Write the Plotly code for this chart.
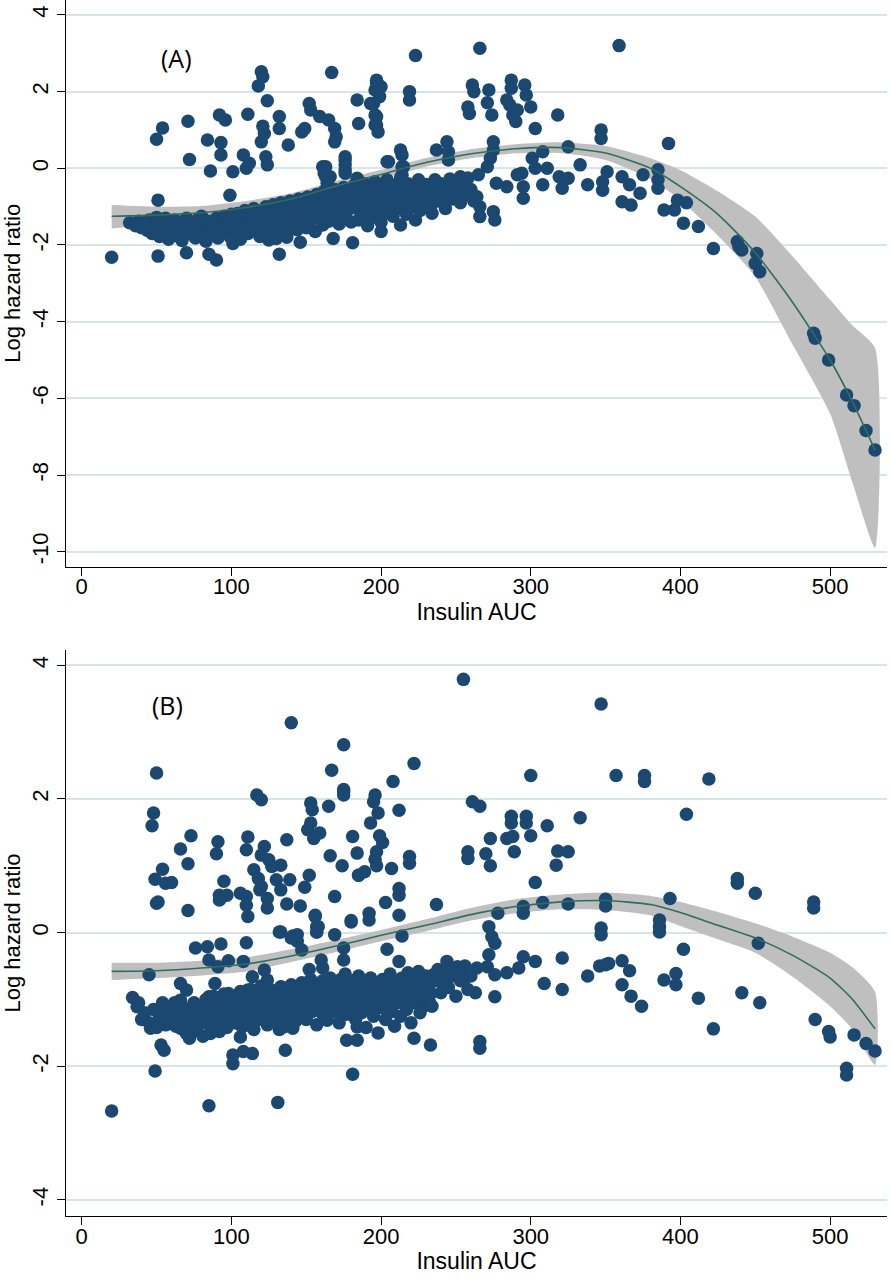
import plotly.graph_objects as go

# ---------------- data ----------------
x_ticks = [0, 100, 200, 300, 400, 500]
a_y_ticks = [-10, -8, -6, -4, -2, 0, 2, 4]
a_y_labels = ["-10", "-8", "-6", "-4", "-2", "0", "2", "4"]
b_y_ticks = [-4, -2, 0, 2, 4]
b_y_labels = ["-4", "-2", "0", "2", "4"]

fit_x = [20, 50, 80, 110, 140, 170, 200, 230, 260, 290, 320, 350, 380, 400, 425, 450, 475, 500, 515, 530]

a_fit = [-1.25, -1.22, -1.16, -1.02, -0.8, -0.46, -0.16, 0.15, 0.38, 0.51, 0.54, 0.4, 0.0, -0.48, -1.2, -2.2, -3.5, -5.0, -6.1, -7.35]
a_hi = [-0.96, -1.0, -0.98, -0.85, -0.65, -0.33, -0.04, 0.27, 0.5, 0.63, 0.68, 0.58, 0.26, -0.05, -0.6, -1.26, -2.3, -3.43, -4.1, -4.69]
a_lo = [-1.57, -1.45, -1.35, -1.2, -0.96, -0.6, -0.28, 0.04, 0.26, 0.39, 0.4, 0.22, -0.28, -0.83, -1.75, -2.83, -4.6, -6.4, -8.2, -9.9]

b_fit = [-0.58, -0.57, -0.53, -0.47, -0.35, -0.2, -0.04, 0.11, 0.27, 0.39, 0.46, 0.48, 0.42, 0.3, 0.11, -0.08, -0.34, -0.68, -1.0, -1.44]
b_hi = [-0.45, -0.45, -0.42, -0.37, -0.25, -0.11, 0.04, 0.2, 0.37, 0.5, 0.57, 0.6, 0.55, 0.46, 0.31, 0.14, -0.06, -0.3, -0.52, -0.88]
b_lo = [-0.71, -0.68, -0.64, -0.58, -0.44, -0.29, -0.13, 0.02, 0.18, 0.29, 0.35, 0.34, 0.26, 0.1, -0.1, -0.3, -0.66, -1.1, -1.45, -1.98]

# Panel A scatter: insulin AUC and log hazard ratio
a_x = [
    20, 50, 54, 71, 72, 51, 51, 70, 85, 90, 84, 93, 92, 96, 93, 86, 101, 99, 111,
    108, 112, 110, 120, 121, 118, 124, 121, 122, 120, 123, 124, 132, 132, 138, 147, 149,
    152, 153, 159, 165, 169, 170, 169, 167, 163, 163, 176, 176, 184, 193, 197, 196, 196,
    196, 185, 168, 181, 132, 146, 125, 130, 137, 101,
    223, 266, 359, 197, 200, 199, 195, 197, 197, 198, 219, 219, 261, 262, 258, 259, 272,
    271, 274, 287, 287, 284, 286, 288, 290, 291, 296, 297, 300, 318, 303, 347, 347, 392,
    213, 205, 215, 237, 244, 245, 245, 275, 275, 273, 271, 308, 325, 301, 303, 311, 333,
    351, 348, 348, 361, 366, 373, 361, 367, 375, 385, 385, 385, 389, 338, 321, 319, 325,
    308, 294, 295, 295, 291, 284, 277, 265, 264, 266, 266, 275, 276, 253, 254, 234, 223,
    213, 200,
    396, 398, 404, 402, 412, 422, 438, 439, 441, 451, 450, 453, 489, 490, 499, 511, 516,
    524, 530,
    161, 162, 166, 164, 176, 176, 176, 184, 204, 214, 214, 214,
    32, 36, 38, 40, 42, 44, 45, 47, 48, 50, 50, 52, 53, 55, 56, 57, 58, 60, 60,
    62, 63, 65, 66, 67, 68, 70, 70, 72, 73, 75, 76, 77, 78, 80, 80, 82, 83, 84, 85, 86,
    88, 89, 90, 91, 92, 93, 95, 95, 96, 98, 99, 100, 100,
    102, 103, 104, 105, 106, 107, 108, 109, 110, 111, 112, 113, 114, 115, 116, 117, 118,
    119, 120, 121, 122, 123, 124, 125, 126, 127, 128, 129, 130, 131, 132, 133, 134, 135,
    136, 137, 138, 139, 140, 140,
    142, 143, 144, 145, 146, 147, 148, 149, 150, 151, 152, 153, 154, 155, 156, 157, 158,
    159, 160, 161, 162, 163, 164, 165, 166, 167, 168, 169, 170, 171, 172, 173, 174, 175,
    176, 177, 178, 179, 180, 180,
    182, 183, 184, 185, 186, 187, 188, 189, 190, 191, 192, 193, 194, 195, 196, 197, 198,
    199, 200, 200, 202, 203, 204, 205, 206, 208, 209, 210, 212, 213, 214, 215, 217, 218,
    220, 221, 222, 224, 225, 226, 228, 229, 230,
    232, 233, 235, 236, 238, 239, 240, 242, 243, 245, 246, 248, 250, 251, 253, 255, 256,
    258, 260, 262,
]
a_y = [
    -2.32, 0.76, 1.05, 1.23, 0.23, -0.83, -2.29, -2.2, -2.24, -2.39, 0.74, 0.67, 1.39, 1.26, 0.35, -0.07, -0.09, -0.7, 1.41,
    0.35, 0.13, 0.0, 2.52, 2.39, 2.15, 1.76, 1.1, 0.91, 0.69, 0.3, 0.09, 1.35, 1.04, 0.61, 0.95, 1.04,
    1.69, 1.52, 1.35, 1.26, 1.04, 0.82, 0.69, 2.5, 0.04, -0.22, 0.22, -0.04, 1.78, 1.69, 2.22, 2.04, 1.39,
    1.13, 1.17, -1.83, -1.94, -2.24, -1.93, -1.87, -1.83, -1.8, -1.96,
    2.94, 3.13, 3.2, 2.3, 2.13, 1.87, 1.69, 1.35, 1.13, 0.95, 2.0, 1.78, 2.17, 2.0, 1.6, 1.43, 2.04,
    1.71, 1.39, 2.3, 2.09, 1.78, 1.65, 1.39, 1.22, 1.52, 2.17, 1.91, 1.6, 1.39, 1.04, 1.0, 0.78, 0.65,
    0.48, 0.17, 0.04, 0.48, 0.69, 0.43, 0.22, 0.69, 0.48, 0.26, 0.04, 0.43, 0.56, 0.26, 0.0, 0.0, 0.09,
    -0.09, -0.35, -0.57, -0.22, -0.43, -0.65, -0.87, -0.96, -0.17, -0.04, -0.3, -0.52, -1.09, -0.43, -0.52, -0.22, -0.26,
    -0.43, -0.13, -0.48, -0.78, -0.17, -0.48, -0.39, -0.17, -0.74, -1.0, -1.26, -1.13, -1.35, -0.22, -0.48, -1.17, -1.35,
    -1.48, -1.65,
    -1.09, -0.83, -0.9, -1.43, -1.52, -2.09, -1.91, -2.04, -2.13, -2.22, -2.48, -2.7, -4.3, -4.43, -5.0, -5.91, -6.19,
    -6.84, -7.35,
    0.04, -0.13, -0.22, -0.39, 0.3, 0.09, -0.13, -0.26, 0.17, 0.04, -0.17, 0.35,
    -1.42, -1.5, -1.38, -1.55, -1.45, -1.62, -1.35, -1.7, -1.5, -1.28, -1.6, -1.78, -1.42, -1.55, -1.3, -1.68, -1.85, -1.48, -1.62,
    -1.35, -1.75, -1.55, -1.45, -1.88, -1.62, -1.3, -1.52, -1.7, -1.42, -1.58, -1.82, -1.35, -1.5, -1.65, -1.25, -1.45, -1.9, -1.55, -1.38, -1.72,
    -1.48, -1.6, -1.3, -1.82, -1.42, -1.55, -1.25, -1.68, -1.45, -1.35, -1.78, -1.52, -1.2,
    -1.4, -1.62, -1.18, -1.5, -1.85, -1.32, -1.58, -1.1, -1.45, -1.7, -1.25, -1.52, -1.38, -1.05, -1.62, -1.3, -1.48,
    -1.78, -1.15, -1.4, -1.55, -1.0, -1.3, -1.65, -1.2, -1.45, -0.95, -1.35, -1.58, -1.12, -1.4, -0.9, -1.25, -1.5,
    -1.05, -1.7, -1.3, -0.85, -1.18, -1.45,
    -1.0, -1.35, -1.6, -0.8, -1.15, -1.42, -0.95, -1.25, -1.55, -0.75, -1.08, -1.35, -0.9, -1.2, -1.65, -0.68, -1.0,
    -1.3, -0.85, -1.48, -0.6, -1.12, -0.95, -1.38, -0.7, -1.02, -1.25, -0.55, -0.88, -1.15, -1.45, -0.72, -1.0, -0.5,
    -1.3, -0.82, -1.08, -0.6, -0.95, -1.4,
    -0.45, -0.78, -1.05, -1.35, -0.62, -0.9, -1.2, -0.4, -0.75, -1.5, -0.98, -0.55, -1.28, -0.82, -0.35, -1.1, -0.68,
    -0.95, -0.5, -1.4, -0.8, -1.15, -0.3, -0.62, -0.95, -1.25, -0.45, -0.78, -1.05, -0.25, -0.6, -0.9, -1.2, -0.4,
    -0.72, -1.0, -0.5, -0.85, -0.3, -1.1, -0.62, -0.9, -0.42,
    -0.75, -1.0, -0.55, -0.3, -0.85, -0.62, -0.4, -0.72, -1.05, -0.5, -0.28, -0.8, -0.6, -0.35, -0.9, -0.45, -0.7,
    -0.25, -0.55, -0.85,
]

# Panel B scatter
b_x = [
    50, 48, 47, 73, 66, 71, 54, 49, 56, 60, 51, 71, 91, 90, 95, 92, 92, 97, 111, 110,
    117, 120, 122, 120, 125, 127, 133, 115, 118, 120, 119, 106, 110, 110, 111, 124, 124,
    130, 133, 139, 137, 137, 146, 149, 152, 140, 175, 175, 167, 165, 153, 154, 153, 151,
    155, 159, 166, 174, 181, 184, 185, 156, 158, 157, 169, 169, 180, 133, 141, 144,
    255, 347, 222, 208, 300, 357, 175, 175, 196, 195, 198, 193, 212, 261, 266, 287, 287,
    297, 297, 300, 311, 333, 199, 201, 197, 196, 197, 207, 219, 219, 185, 189, 273, 284,
    288, 289, 258, 258, 270, 273, 318, 325, 317, 303, 212, 212, 203, 192, 192, 180, 212,
    237, 214, 278, 295, 295, 308, 325, 350, 350, 347, 347, 272, 274, 276, 272, 204, 212,
    295, 303, 321, 292, 264, 271, 276, 284, 309, 321, 338, 350, 346, 263, 276,
    244, 244, 246, 253, 251, 255, 242, 235, 235, 224, 224, 228, 233, 232, 222, 233, 266, 266,
    376, 376, 419, 404, 438, 438, 450, 489, 489, 393, 386, 386, 386, 402, 452, 352, 361,
    366, 361, 367, 374, 389, 397, 397, 412, 422, 441, 453, 490, 499, 500, 516, 524, 530,
    511, 511,
    20, 49, 85, 131, 181, 45, 76, 84, 93, 85, 91, 98, 108, 110, 132, 140, 144, 147, 157,
    157, 156, 152, 160, 161, 175, 175, 34, 37, 40, 46, 55, 58, 53, 55, 52, 59, 66, 70,
    66, 68, 66, 70, 72, 76, 79, 85, 87, 84, 86, 89, 98, 104, 100, 100, 106, 106, 101, 101,
    108, 114, 114, 111, 112, 110, 115, 119, 122, 124, 120, 126, 124, 130, 133, 137, 141,
    146, 133, 135, 141, 136, 150, 155, 159, 153, 150, 161, 164, 168, 170, 173, 175, 177,
    182, 184, 177, 184, 184, 179, 50,
    38, 42, 45, 48, 50, 52, 54, 56, 58,
    60, 62, 63, 64, 65, 67, 68, 69, 71, 72, 73, 74, 75, 77, 78, 79, 80, 81, 82, 83, 84,
    86, 87, 88, 89, 90, 91, 92, 93, 94, 95, 96, 97, 98, 99, 100, 102, 103, 104, 105, 106,
    107, 108, 109, 110, 111, 112, 113, 114, 115, 116, 117, 118, 119, 120, 121, 122, 123,
    124, 125, 126, 127, 128, 129, 130, 131, 132, 133, 134, 135, 136, 137, 138, 139, 140,
    141, 142, 143, 144, 145, 146, 147, 148, 149, 150, 151, 152, 153, 154, 155, 156, 157,
    158, 159, 160, 161, 162, 163, 164, 165, 166, 167, 168, 169, 170, 171, 172, 173, 174,
    175, 176, 177, 178, 179, 180, 181, 182, 183, 184, 185, 186, 187, 188, 189, 190, 191,
    192, 193, 194, 195, 196, 197, 198, 199, 200, 201, 202, 203, 204, 205, 206, 207, 208,
    209, 210, 211, 212, 213, 214, 215, 216, 217, 218, 219, 220, 221, 222, 224, 225, 226,
    227, 229, 230, 232, 234, 236, 238, 240, 242, 245, 248, 250, 253, 256, 258, 260,
]
b_y = [
    2.39, 1.79, 1.6, 1.45, 1.25, 1.03, 0.95, 0.8, 0.74, 0.75, 0.46, 0.33, 1.36, 1.18, 0.77, 0.56, 0.49, 0.56, 1.43, 1.24,
    2.06, 1.99, 1.29, 1.16, 1.09, 0.99, 1.01, 0.94, 0.81, 0.69, 0.64, 0.59, 0.54, 0.41, 0.24, 0.51, 0.37,
    0.79, 0.64, 0.79, 1.39, 0.43, 0.4, 0.68, 0.86, 3.14, 2.81, 2.11, 2.43, 1.89, 1.94, 1.84, 1.64, 1.54,
    1.41, 1.49, 1.15, 1.0, 1.44, 1.19, 0.86, 0.24, 0.09, 0.01, 0.54, -0.03, 0.16, 0.01, -0.05, -0.13,
    3.79, 3.42, 2.53, 2.26, 2.35, 2.35, 2.14, 2.06, 2.06, 1.96, 1.79, 1.64, 1.83, 1.96, 1.89, 1.74, 1.64,
    1.74, 1.64, 1.45, 1.6, 1.72, 1.45, 1.35, 1.21, 1.1, 1.0, 0.96, 1.14, 1.04, 0.86, 0.91, 1.41, 1.41,
    1.44, 1.21, 1.21, 1.11, 1.18, 1.0, 1.22, 1.21, 1.01, 0.75, 0.66, 0.56, 0.45, 0.29, 0.19, 0.18, 0.26,
    0.42, -0.05, 0.29, 0.39, 0.29, 0.45, 0.43, 0.5, 0.4, 0.07, -0.03, 0.09, -0.06, -0.16, -0.33, -0.25, -0.43,
    -0.36, -0.43, -0.38, -0.53, -0.53, -0.51, -0.63, -0.6, -0.76, -0.85, -0.65, -0.48, -0.5, -0.9, -0.96,
    -0.43, -0.56, -0.66, -0.58, -0.51, -0.71, -0.76, -0.71, -0.63, -0.63, -0.73, -1.11, -0.91, -1.01, -1.58, -1.68, -1.63, -1.73,
    2.35, 2.26, 2.3, 1.77, 0.81, 0.74, 0.59, 0.46, 0.37, 0.51, 0.19, 0.09, 0.01, -0.25, -0.16, -0.46, -0.42,
    -0.57, -0.78, -0.95, -1.1, -0.71, -0.61, -0.78, -0.98, -1.44, -0.9, -1.05, -1.3, -1.48, -1.56, -1.53, -1.66, -1.77,
    -2.03, -2.13,
    -2.67, -2.07, -2.59, -2.54, -2.12, -0.63, -0.23, -0.21, -0.17, -0.41, -0.51, -0.42, -0.43, -0.15, 0.01, -0.08, -0.03, -0.26, 0.09,
    0.01, 0.26, -0.55, -0.41, -0.53, -0.23, -0.41, -0.97, -1.11, -1.3, -1.43, -1.1, -1.16, -1.68, -1.76, -1.31, -1.36, -0.76, -0.86,
    -1.01, -1.21, -1.43, -1.51, -1.58, -1.16, -1.23, -0.96, -1.11, -1.36, -1.51, -0.76, -0.91, -0.98, -1.13, -1.33, -1.38, -1.56, -1.83, -1.96,
    -1.78, -1.81, -0.66, -0.86, -1.01, -1.16, -1.26, -1.21, -0.56, -0.71, -0.91, -1.01, -1.16, -1.11, -0.81, -0.91, -1.06,
    -0.96, -1.31, -1.41, -1.43, -1.76, -0.76, -0.86, -1.01, -1.16, -1.28, -1.21, -1.31, -0.86, -1.01, -1.11, -1.21, -1.01,
    -0.86, -1.11, -1.61, -1.41, -1.61, -0.76, 0.44,
    -1.05, -1.2, -1.35, -1.15, -1.42, -1.25, -1.05, -1.38, -1.2,
    -1.25, -1.05, -1.4, -1.18, -1.32, -1.1, -1.45, -1.25, -1.38, -1.15, -1.5, -1.28, -1.05, -1.42, -1.2, -1.35, -1.1, -1.55, -1.28, -1.0, -1.18,
    -1.4, -1.25, -0.95, -1.12, -1.35, -1.2, -1.48, -1.05, -1.3, -0.92, -1.15, -1.42, -1.25, -1.05, -1.2, -0.95, -1.35, -1.12, -1.25, -0.88,
    -1.05, -1.4, -1.18, -0.98, -1.3, -1.1, -0.85, -1.22, -1.45, -1.02, -0.92, -1.3, -1.12, -0.8, -1.05, -1.25, -0.95,
    -1.38, -1.15, -0.85, -1.02, -1.3, -1.12, -0.92, -1.2, -1.45, -1.0, -0.82, -1.15, -1.3, -0.95, -1.08, -1.22, -0.78,
    -0.98, -1.15, -1.32, -0.88, -1.05, -1.2, -0.75, -0.95, -1.12, -1.3, -0.85, -1.02, -0.7, -1.18, -0.92, -1.08, -1.38,
    -0.8, -0.98, -1.15, -0.72, -0.9, -1.25, -1.05, -0.85, -0.68, -1.0, -1.18, -0.78, -0.95, -1.12, -1.35, -0.7, -0.88,
    -1.05, -0.62, -1.22, -0.82, -0.98, -1.15, -0.72, -0.9, -1.3, -1.05, -0.65, -0.85, -1.2, -1.0, -0.75, -1.42, -0.92,
    -1.1, -0.68, -0.85, -1.25, -1.0, -0.78, -1.5, -0.92, -1.12, -0.7, -0.88, -1.3, -1.05, -0.8, -0.62, -1.18, -0.95,
    -1.4, -0.75, -1.05, -0.88, -1.25, -0.68, -1.0, -0.82, -1.15, -0.6, -0.92, -1.35, -0.75, -1.05, -0.88, -0.58, -1.2,
    -0.8, -0.95, -0.65, -0.85, -1.1, -0.72, -0.55, -0.9, -0.68, -0.82, -0.6, -0.95, -0.72, -0.5, -0.85, -0.65,
]

# ---------------- styles ----------------
DOT = "#1b4870"
FIT = "#2f6e5c"
BAND = "#bfbfbf"
GRID = "#d8e6e3"
FONT = "Liberation Sans, Arial, sans-serif"

fig = go.Figure()


def add_panel(xs, ys, fx, fit, lo, hi, xa, ya):
    fig.add_trace(go.Scatter(
        x=fx + fx[::-1], y=hi + lo[::-1], fill="toself", fillcolor=BAND,
        line=dict(width=0, shape="spline", smoothing=0.6), mode="lines",
        hoverinfo="skip", showlegend=False, xaxis=xa, yaxis=ya))
    fig.add_trace(go.Scatter(
        x=xs, y=ys, mode="markers", marker=dict(size=13.5, color=DOT, line=dict(width=0)),
        showlegend=False, xaxis=xa, yaxis=ya))
    fig.add_trace(go.Scatter(
        x=fx, y=fit, mode="lines",
        line=dict(color=FIT, width=1.6, shape="spline", smoothing=0.6),
        showlegend=False, xaxis=xa, yaxis=ya))


add_panel(a_x, a_y, fit_x, a_fit, a_lo, a_hi, "x", "y")
add_panel(b_x, b_y, fit_x, b_fit, b_lo, b_hi, "x2", "y2")

xcommon = dict(range=[-10.5, 538], tickvals=x_ticks, showgrid=False, zeroline=False,
               showline=True, linecolor="black", linewidth=1.2, ticks="outside",
               ticklen=8, tickwidth=1.2, tickcolor="black", ticklabelstandoff=-8,
               tickfont=dict(family=FONT, size=22, color="black"),
               title=dict(text="Insulin AUC", font=dict(family=FONT, size=23, color="black"),
                          standoff=0))
ycommon = dict(showgrid=True, gridcolor=GRID, gridwidth=1.5, zeroline=False,
               showline=True, linecolor="black", linewidth=1.2, ticks="outside",
               ticklen=8, tickwidth=1.2, tickcolor="black", tickangle=-90,
               tickfont=dict(family=FONT, size=22, color="black"),
               title=dict(text="Log hazard ratio", font=dict(family=FONT, size=22, color="black"),
                          standoff=4))

fig.update_layout(
    width=892, height=1279,
    margin=dict(l=66, r=5, t=0, b=63),
    paper_bgcolor="white", plot_bgcolor="white",
    xaxis=dict(xcommon, anchor="y", domain=[0, 1]),
    yaxis=dict(ycommon, anchor="x", domain=[0.534, 1.0], range=[-10.39, 4.39],
               tickvals=a_y_ticks, ticktext=a_y_labels),
    xaxis2=dict(xcommon, anchor="y2", domain=[0, 1]),
    yaxis2=dict(ycommon, anchor="x2", domain=[0.0, 0.4655], range=[-4.24, 4.23],
                tickvals=b_y_ticks, ticktext=b_y_labels),
    annotations=[
        dict(text="(A)", x=63, y=2.89, xref="x", yref="y", showarrow=False,
             font=dict(family="Open Sans, sans-serif", size=25, color="black")),
        dict(text="(B)", x=57, y=3.41, xref="x2", yref="y2", showarrow=False,
             font=dict(family="Open Sans, sans-serif", size=25, color="black")),
    ],
)

fig.write_html("out.html", config={"displayModeBar": False},
               post_script="document.body.style.margin='0px';")
